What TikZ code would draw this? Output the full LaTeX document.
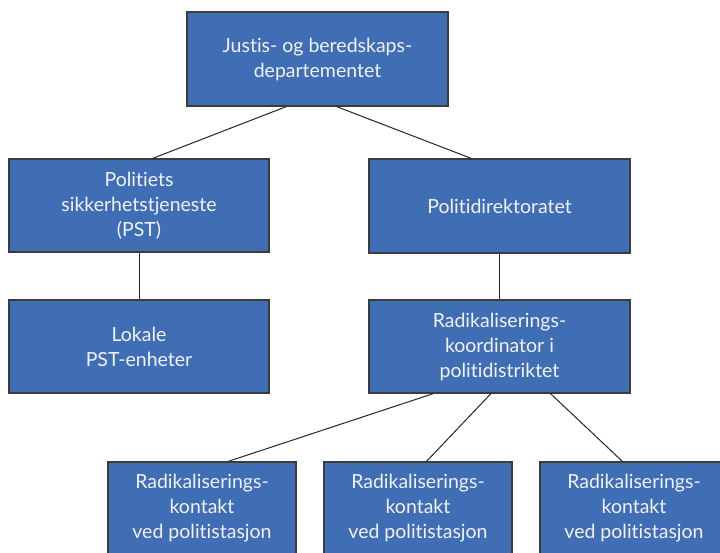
\documentclass[tikz,border=0pt]{standalone}
\usepackage{fontspec}
\setmainfont{Lato}[Ligatures={NoCommon,NoRequired,NoContextual}]
\definecolor{boxblue}{RGB}{64,110,181}
\definecolor{boxedge}{RGB}{60,60,60}
\definecolor{boxtext}{RGB}{240,242,248}
\begin{document}
\begin{tikzpicture}[x=1pt,y=-1pt,
  orgbox/.style={draw=boxedge,line width=1.1pt,fill=boxblue,text=boxtext,
    rectangle,inner sep=0pt,align=center,
    font=\fontsize{19.5}{25}\selectfont},
  wide/.style={minimum width=261pt,minimum height=94pt},
  narrow/.style={minimum width=188pt,minimum height=93pt},
  conn/.style={draw=black!85,line width=1pt}]
\useasboundingbox (0,0) rectangle (720,552);
\clip (0,0) rectangle (720,552);
\fill[white] (0,0) rectangle (720,552);
\node[orgbox,wide] (top) at (317.5,59) {Justis- og beredskaps-\\departementet};
\node[orgbox,wide,minimum width=260pt,minimum height=93pt] (pst) at (139,205.5) {Politiets\\sikkerhetstjeneste\\(PST)};
\node[orgbox,wide] (pdir) at (499.5,206) {Politidirektoratet};
\node[orgbox,wide,minimum width=260pt,minimum height=93pt] (lokale) at (139,346.5) {Lokale\\PST-enheter};
\node[orgbox,wide,minimum height=93pt] (koord) at (499.5,346.5) {Radikaliserings-\\koordinator i\\politidistriktet};
\node[orgbox,narrow] (k1) at (202,508.5) {Radikaliserings-\\kontakt\\ved politistasjon};
\node[orgbox,narrow] (k2) at (418,508.5) {Radikaliserings-\\kontakt\\ved politistasjon};
\node[orgbox,narrow] (k3) at (634,508.5) {Radikaliserings-\\kontakt\\ved politistasjon};
\draw[conn] ([xshift=100pt]top.south west) -- ([xshift=144pt]pst.north west);
\draw[conn] ([xshift=150pt]top.south west) -- ([xshift=103pt]pdir.north west);
\draw[conn] (pst.south) -- (lokale.north);
\draw[conn] (pdir.south) -- (koord.north);
\draw[conn] ([xshift=65pt]koord.south west) -- ([xshift=120.5pt]k1.north west);
\draw[conn] ([xshift=122.5pt]koord.south west) -- ([xshift=103pt]k2.north west);
\draw[conn] ([xshift=182pt]koord.south west) -- ([xshift=83pt]k3.north west);
\end{tikzpicture}
\end{document}
